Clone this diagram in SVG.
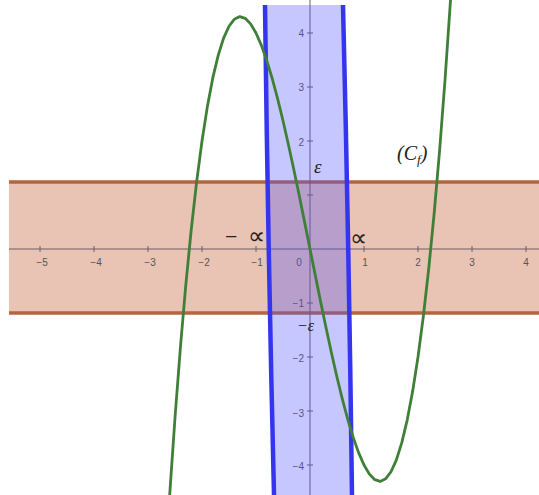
<svg xmlns="http://www.w3.org/2000/svg" width="539" height="495" viewBox="0 0 539 495">
<style>
.ax{stroke:#6a5f66;stroke-width:1;fill:none}
.tk{stroke:#6a5f66;stroke-width:1}
.num{font-family:"Liberation Sans",Arial,sans-serif;font-size:10px;fill:#555}
.lbl{font-family:"Liberation Serif","Times New Roman",serif;fill:#222}
</style>
<rect width="539" height="495" fill="#ffffff"/>
<g id="band-horizontal">
<rect x="9" y="182" width="530" height="131" fill="#e9c3b3"/>
<line x1="9" y1="182" x2="539" y2="182" stroke="#b5653f" stroke-width="3.5"/>
<line x1="9" y1="313" x2="539" y2="313" stroke="#b5653f" stroke-width="3.5"/>
</g>
<g id="axes">
<line class="ax" x1="9" y1="249" x2="539" y2="249"/>
<line class="ax" x1="310" y1="0" x2="310" y2="495"/>
<g class="tk">
<line x1="40" y1="246" x2="40" y2="252"/>
<line x1="94" y1="246" x2="94" y2="252"/>
<line x1="148" y1="246" x2="148" y2="252"/>
<line x1="202" y1="246" x2="202" y2="252"/>
<line x1="256" y1="246" x2="256" y2="252"/>
<line x1="364" y1="246" x2="364" y2="252"/>
<line x1="418" y1="246" x2="418" y2="252"/>
<line x1="472" y1="246" x2="472" y2="252"/>
<line x1="526" y1="246" x2="526" y2="252"/>
<line x1="307" y1="33" x2="313" y2="33"/>
<line x1="307" y1="87" x2="313" y2="87"/>
<line x1="307" y1="141" x2="313" y2="141"/>
<line x1="307" y1="195" x2="313" y2="195"/>
<line x1="307" y1="303" x2="313" y2="303"/>
<line x1="307" y1="357" x2="313" y2="357"/>
<line x1="307" y1="411" x2="313" y2="411"/>
<line x1="307" y1="465" x2="313" y2="465"/>
</g>
<g class="num" text-anchor="middle">
<text x="42" y="266">−5</text>
<text x="96" y="266">−4</text>
<text x="150" y="266">−3</text>
<text x="204" y="266">−2</text>
<text x="257" y="266">−1</text>
<text x="299" y="266">0</text>
<text x="365" y="266">1</text>
<text x="418" y="266">2</text>
<text x="472" y="266">3</text>
<text x="526" y="266">4</text>
</g>
<g class="num" text-anchor="end">
<text x="304" y="37">4</text>
<text x="304" y="91">3</text>
<text x="304" y="146">2</text>
<text x="304" y="307">−1</text>
<text x="304" y="362">−2</text>
<text x="304" y="417">−3</text>
<text x="304" y="470">−4</text>
</g>
</g>
<g id="band-vertical">
<path d="M265,5 Q268,249 274,495 L352,495 Q349,249 343,5 Z" fill="#5050ff" fill-opacity="0.32"/>
<path d="M265,5 Q268,249 274,495" fill="none" stroke="#3535ee" stroke-width="4.5"/>
<path d="M343,5 Q349,249 352,495" fill="none" stroke="#3535ee" stroke-width="4.5"/>
</g>
<g id="curve">
<polyline fill="none" stroke="#3f7f37" stroke-width="2.8" stroke-linejoin="round" points="169.6,496.1 175,417.75 180.4,347.5 185.8,285 191.2,230 196.6,182.1 202,141 207.4,106.4 212.8,77.9 218.2,55.3 223.6,38.2 229,26.25 234.4,19.2 239.8,16.6 245.2,18.3 250.6,23.9 256,33 261.4,45.4 266.8,60.6 272.2,78.5 277.6,98.7 283,120.75 288.4,144.5 293.8,169.5 299.2,195.4 304.6,222.1 310,249 315.4,275.9 320.8,302.6 326.2,328.5 331.6,353.5 337,377.25 342.4,399.3 347.8,419.5 353.2,437.4 358.6,452.6 364,465 369.4,474.1 374.8,479.7 380.2,481.4 385.6,478.8 391,471.75 396.4,459.8 401.8,442.7 407.2,420.1 412.6,391.6 418,357 423.4,315.9 428.8,268 434.2,213 439.6,150.5 445,80.25 450.4,1.9 451.5,-14.8"/>
</g>
<g id="labels" class="lbl">
<text x="314" y="173" font-size="19" font-style="italic">ε</text>
<text x="297" y="331" font-size="16" font-style="italic">−ε</text>
<text x="225" y="244" font-size="22">−</text>
<text x="248" y="244" font-size="24">∝</text>
<text x="350" y="246" font-size="24">∝</text>
<text x="397" y="160" font-size="20" font-style="italic">(C<tspan font-size="13" dy="4">f</tspan><tspan dy="-4">)</tspan></text>
</g>
</svg>
